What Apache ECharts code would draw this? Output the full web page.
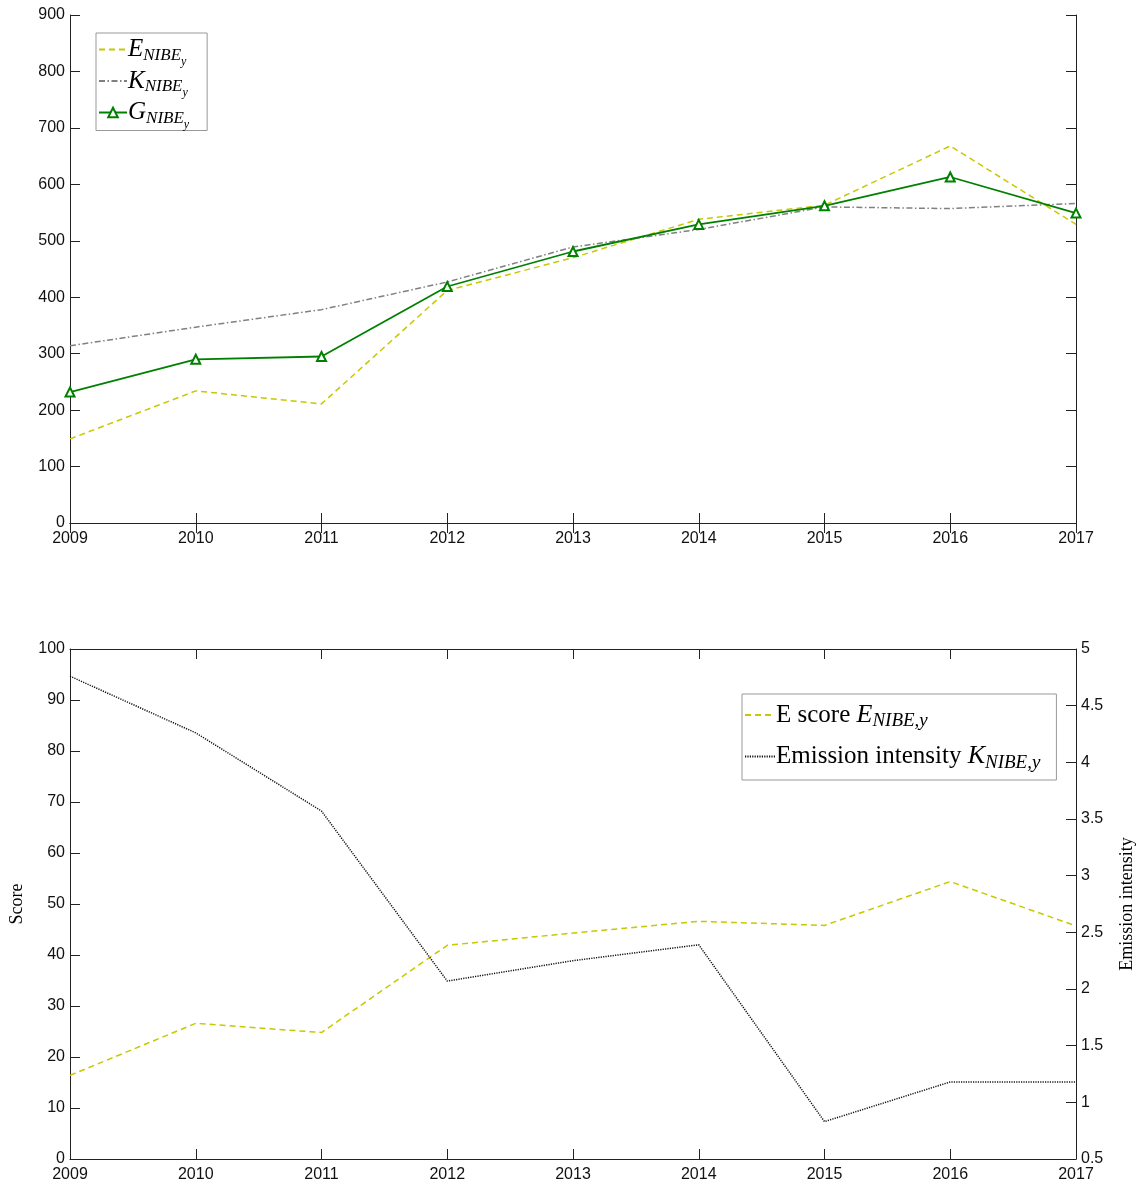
<!DOCTYPE html>
<html><head><meta charset="utf-8">
<script src="https://cdn.jsdelivr.net/npm/echarts@6/dist/echarts.min.js"></script>
<style>html,body{margin:0;padding:0;background:#fff}#c{width:1138px;height:1189px}</style>
</head><body><div id="c"></div>
<script>
const years = [2009,2010,2011,2012,2013,2014,2015,2016,2017];
const topE = [149,234,211,412,470,538,563,668,529];
const topK = [314,347,378,427,489,520,560,557,566];
const topG = [232,290,295,419,481,529,562,613,549];
const eScore = [16.4,26.6,24.8,41.9,44.3,46.6,45.8,54.4,45.7];
const emission = [4.76,4.26,3.57,2.07,2.25,2.39,0.83,1.18,1.18];
const topYTicks = {min:0,max:900,interval:100};
const scoreTicks = {min:0,max:100,interval:10};
const emTicks = {min:0.5,max:5,interval:0.5};

const pair = arr => arr.map((v,i)=>[years[i],v]);
const sans = 'Liberation Sans';
const serif = 'Liberation Serif';
const lab = {fontFamily:sans,fontSize:16,color:'#111'};
const axLine = {show:true,lineStyle:{color:'#222',width:1}};
const tick = {show:true,inside:true,length:10,lineStyle:{color:'#222'}};

function xAx(grid,pos,labels){
  return {type:'value',gridIndex:grid,position:pos,min:2009,max:2017,interval:1,
    axisLine:axLine,axisTick:tick,splitLine:{show:false},
    axisLabel:labels?Object.assign({margin:8,formatter:v=>String(v)},lab):{show:false}};
}
function yAx(grid,pos,t,labels,extra){
  return Object.assign({type:'value',gridIndex:grid,position:pos,min:t.min,max:t.max,interval:t.interval,
    axisLine:axLine,axisTick:tick,splitLine:{show:false},
    axisLabel:labels?Object.assign({margin:5},lab):{show:false}},extra||{});
}
const richTop = {
  m:{fontFamily:serif,fontStyle:'italic',fontSize:25,color:'#000',verticalAlign:'middle'},
  s:{fontFamily:serif,fontStyle:'italic',fontSize:17,color:'#000',verticalAlign:'middle',padding:[12,0,0,0]},
  ss:{fontFamily:serif,fontStyle:'italic',fontSize:12,color:'#000',verticalAlign:'middle',padding:[24,0,0,0]}
};
const richBot = {
  m:{fontFamily:serif,fontStyle:'italic',fontSize:26,color:'#000',verticalAlign:'middle'},
  r:{fontFamily:serif,fontSize:25,color:'#000',verticalAlign:'middle'},
  s:{fontFamily:serif,fontStyle:'italic',fontSize:19,color:'#000',verticalAlign:'middle',padding:[12,0,0,0]}
};
const names = {
  'E_top':'{m|E}{s|NIBE}{ss|y}',
  'K_top':'{m|K}{s|NIBE}{ss|y}',
  'G_top':'{m|G}{s|NIBE}{ss|y}',
  'E_bot':'{r|E score }{m|E}{s|NIBE,y}',
  'K_bot':'{r|Emission intensity }{m|K}{s|NIBE,y}'
};
const noSym = {color:'transparent',borderColor:'transparent',borderWidth:0};
const yel = '#c8c800';
const option = {
  animation:false,
  grid:[{left:70,right:62,top:15,height:508,outerBoundsMode:'none',containLabel:false},
        {left:70,right:62,top:649,height:510,outerBoundsMode:'none',containLabel:false}],
  xAxis:[xAx(0,'bottom',true),xAx(0,'top',false),xAx(1,'bottom',true),xAx(1,'top',false)],
  yAxis:[
    yAx(0,'left',topYTicks,true),
    yAx(0,'right',topYTicks,false),
    yAx(1,'left',scoreTicks,true,{name:'Score',nameLocation:'middle',nameRotate:90,nameGap:44,
      nameTextStyle:{fontFamily:serif,fontSize:18,color:'#000'}}),
    yAx(1,'right',emTicks,true,{name:'Emission intensity',nameLocation:'middle',nameRotate:90,nameGap:42,
      nameTextStyle:{fontFamily:serif,fontSize:18,color:'#000'}})
  ],
  legend:[
    {data:[{name:'E_top',itemStyle:noSym},{name:'K_top',itemStyle:noSym},'G_top'],
     orient:'vertical',left:96,top:33,itemWidth:28,itemHeight:12,itemGap:1,
     padding:[4,18,0,2],backgroundColor:'#fff',borderColor:'#999',borderWidth:1,
     formatter:n=>names[n],textStyle:{rich:richTop,padding:[0,0,0,-4]}},
    {data:[{name:'E_bot',itemStyle:noSym},{name:'K_bot',itemStyle:noSym}],
     orient:'vertical',left:742,top:694,itemWidth:30,itemHeight:12,itemGap:13,
     padding:[8,16,8,2],backgroundColor:'#fff',borderColor:'#999',borderWidth:1,
     formatter:n=>names[n],textStyle:{rich:richBot,padding:[0,0,0,-4]}}
  ],
  series:[
    {name:'E_top',type:'line',xAxisIndex:0,yAxisIndex:0,data:pair(topE),symbol:'none',
     lineStyle:{color:yel,width:1.5,type:[6,4]},itemStyle:{color:yel}},
    {name:'K_top',type:'line',xAxisIndex:0,yAxisIndex:0,data:pair(topK),symbol:'none',
     lineStyle:{color:'#808080',width:1.5,type:[6,2.5,1.5,2.5]},itemStyle:{color:'#808080'}},
    {name:'G_top',type:'line',xAxisIndex:0,yAxisIndex:0,data:pair(topG),symbol:'emptyTriangle',symbolSize:9,
     lineStyle:{color:'#008000',width:1.8},itemStyle:{color:'#008000',borderWidth:1.8}},
    {name:'E_bot',type:'line',xAxisIndex:2,yAxisIndex:2,data:pair(eScore),symbol:'none',
     lineStyle:{color:yel,width:1.5,type:[6,4]},itemStyle:{color:yel}},
    {name:'K_bot',type:'line',xAxisIndex:2,yAxisIndex:3,data:pair(emission),symbol:'none',
     lineStyle:{color:'#111',width:1.5,type:[1.2,1.2]},itemStyle:{color:'#111'}}
  ]
};
echarts.init(document.getElementById('c')).setOption(option);
</script></body></html>
